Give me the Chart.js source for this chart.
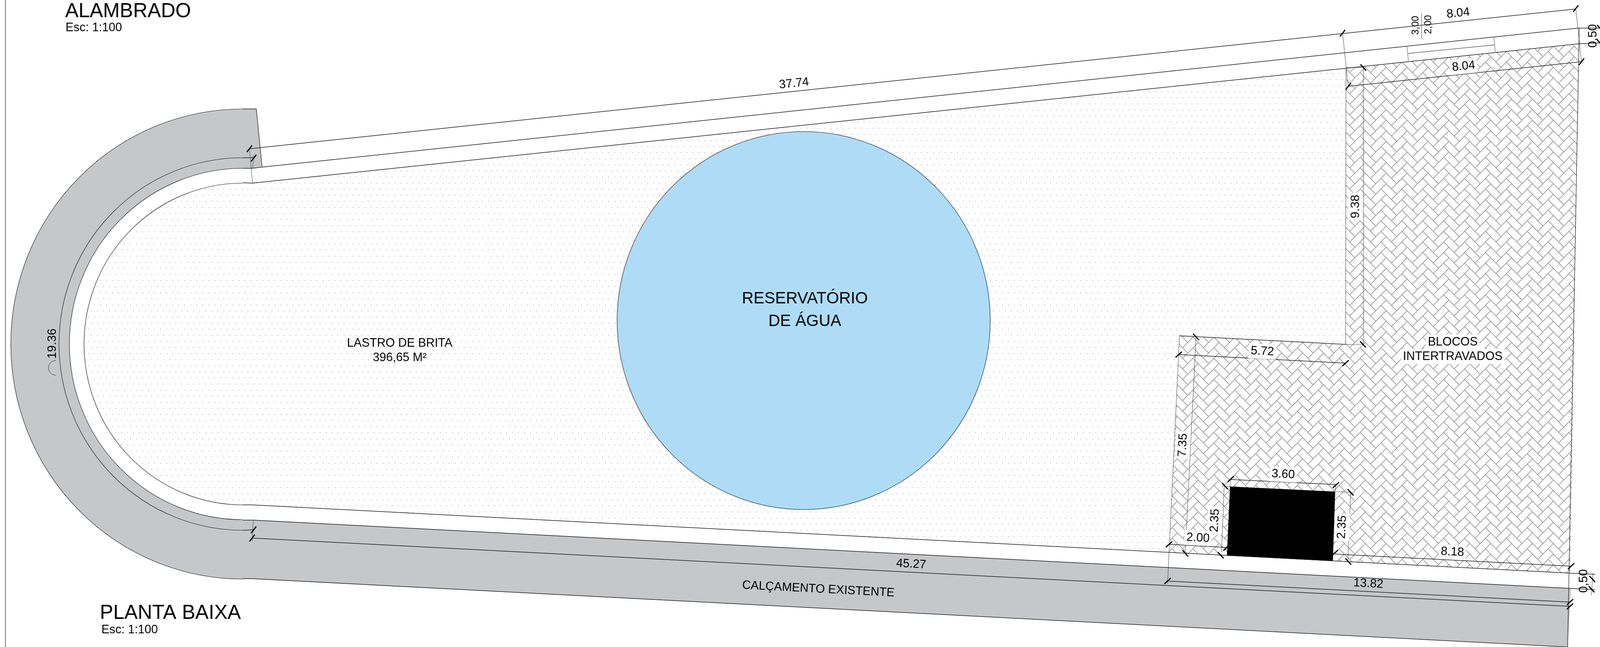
<!DOCTYPE html>
<html lang="pt-BR">
<head>
  <meta charset="UTF-8" />
  <title>Planta baixa - reservatório de água</title>
  <style>
    html, body { margin: 0; padding: 0; background: #fff; overflow: hidden; }
    canvas { display: block; width: 100vw !important; height: 100vh !important; }
  </style>
</head>
<body>
<canvas id="plan" width="4151" height="1657"></canvas>

<script src="https://cdn.jsdelivr.net/npm/chart.js"></script>
<script>
// plan readings, [x, y] in drawing units, [null, null] breaks a line
const gap = [null, null];

const frameLine = [[14, 0], [14, 1657]];

// round end of the lot, all share one centre
const curveCentre = [[630, 881]];
const reservoirCentre = [[2085, 821]];

const coverRight = [[630, 0], [4151, 0], [4151, 1657], [630, 1657]];
const pavingTop = [[630, 279], [665, 279], [680, 428], [655, 431], [630, 431]];
const pavingBottom = [[630, 1332], [657, 1332], [4076, 1507], [4067, 1657], [654, 1482], [630, 1482]];
const gravelArea = [[630, 468], [655, 469], [3492, 174], [3491, 882], [3060, 860], [3033, 1415], [654, 1293], [630, 1293]];
const blockArea = [[3492, 174], [4097, 112], [4074, 1468], [3033, 1415], [3060, 860], [3491, 882]];
const blackBox = [[3191, 1246], [3464, 1259], [3458, 1437], [3183, 1423]];

const planLines = [
  [[630, 279], [665, 279], [680, 428], [655, 431], [630, 431]],
  [[680, 428], [4094, 72], [4151, 72]],
  [[630, 468], [655, 469], [4097, 112], [4151, 110]],
  [[630, 1293], [654, 1293], [4076, 1468], [4139, 1471]],
  [[630, 1332], [657, 1332], [4076, 1507], [4138, 1510]],
  [[630, 1482], [654, 1482], [4067, 1657]],
  [[630, 404], [657, 404]],
  [[630, 1358], [657, 1357]],
  [[4097, 72], [4067, 1657]],
  [[3060, 860], [3491, 882]]
];

const dimensionLines = [
  [[647, 381], [4088, 23]],
  [[3498, 221], [4103, 158]],
  [[3058, 908], [3491, 930]],
  [[3033, 1394], [3182, 1402]],
  [[3193, 1228], [3466, 1241]],
  [[3463, 1419], [4076, 1450]],
  [[3028, 1488], [4073, 1542]],
  [[654, 1378], [4073, 1553]]
];

const edgeLines = [
  [[3492, 174], [3491, 882], [3537, 882], [3537, 173], [3492, 173]],
  [[3060, 860], [3029, 1495]],
  [[3103, 863], [3075, 1413]],
  [[3650, 119], [3654, 156]],
  [[3876, 96], [3879, 133]],
  [[3688, 33], [3688, 99]],
  [[4132, 1468], [4129, 1525]],
  [[3483, 85], [3498, 221]],
  [[4088, 22], [4103, 158]],
  [[3193, 1228], [3191, 1246]],
  [[3466, 1241], [3464, 1259]],
  [[3176, 1245], [3169, 1413]],
  [[3169, 1245], [3191, 1246]],
  [[3504, 1262], [3497, 1440]],
  [[3464, 1259], [3508, 1261]],
  [[647, 381], [655, 469]],
  [[658, 398], [656, 431]],
  [[657, 1332], [654, 1386]]
];

const gateLine = [[3652, 137], [3877, 115]];

const arcSymbol = [[145, 923], [135.5, 925.5], [128.5, 932.5], [126, 942], [128.5, 951.5], [135.5, 958.5], [145, 961]];

const ticksSteep = [[647, 381], [658, 405], [3483, 85], [4088, 22], [3498, 221], [4103, 158], [658, 1357], [654, 1378]];
const ticksForward = [[3033, 1394], [3029, 1488], [3193, 1227], [3466, 1242], [3058, 908], [3491, 930], [3463, 1416], [4076, 1450], [4073, 1542], [4073, 1553], [3182, 1403]];
const ticksBack = [[3537, 173], [3536, 882], [3103, 863], [3075, 1417], [3178, 1245], [3167, 1422], [3504, 1261], [3498, 1438], [4131, 1483], [4129, 1509], [4151, 72], [4151, 110]];

// text, x, y, angle, white box behind
const dimensionLabels = [
  ['37.74', 2060, 214, -5.95, false],
  ['8.04', 3783, 34, -5.95, false],
  ['8.04', 3797, 170, -5.95, true],
  ['9.38', 3517, 529, -90, true],
  ['5.72', 3275, 900, 2.9, true],
  ['7.35', 3069, 1140, -87.2, true],
  ['2.00', 3108, 1378, 2.9, true],
  ['2.35', 3152, 1333, -87.2, true],
  ['2.35', 3482, 1350, -87.2, true],
  ['3.60', 3329, 1215, 2.9, true],
  ['13.82', 3550, 1495, 2.9, false],
  ['8.18', 3768, 1414, 2.9, true],
  ['45.27', 2364, 1445, 2.9, false],
  ['19.36', 136, 880, -90, false],
  ['0,50', 4133, 92, -90, false],
  ['0,50', 4109, 1488, -90, false]
];
const smallDimensionLabels = [
  ['3,00', 3673, 65, -90, false],
  ['2,00', 3706, 63, -90, false]
];
const noteLabels = [
  ['CALÇAMENTO EXISTENTE', 2123, 1509, 2.9, false],
  ['LASTRO DE BRITA', 1037, 879, 0, false],
  ['396,65 M²', 1037, 916, 0, false],
  ['BLOCOS', 3769, 876, 0, true],
  ['INTERTRAVADOS', 3769, 913, 0, true]
];
const reservoirLabels = [
  ['RESERVATÓRIO', 2088, 765, 0, false],
  ['DE ÁGUA', 2088, 823, 0, false]
];
const titleLabels = [
  ['ALAMBRADO', 169, 44],
  ['PLANTA BAIXA', 259, 1585]
];
const scaleLabels = [
  ['Esc: 1:100', 170, 80],
  ['Esc: 1:100', 263, 1622]
];

const FONT = '"Liberation Sans", Arial, sans-serif';
const GREY = '#c6c7c9';
const INK = '#1c1c1c';

function joined(lines) {
  const out = [];
  lines.forEach((l, i) => {
    if (i) out.push(gap);
    l.forEach(p => out.push(p));
  });
  return out;
}

// gravel dots, staggered rows 15.6 apart
function dotPattern() {
  const tile = document.createElement('canvas');
  tile.width = 78;
  tile.height = 156;
  const c = tile.getContext('2d');
  c.fillStyle = '#a2a2a2';
  for (let j = 0; j < 10; j++) {
    const y = 0.87 + 15.6 * j;
    const x0 = j % 2 ? 3.47 : 11.07;
    for (let i = -1; i < 6; i++) {
      c.beginPath();
      c.arc(x0 + 15.6 * i, y, 1.1, 0, Math.PI * 2);
      c.fill();
    }
  }
  return c.createPattern(tile, 'repeat');
}

// herringbone, 2:1 bricks at 45 degrees
function brickPattern() {
  const tile = document.createElement('canvas');
  tile.width = 271;
  tile.height = 271;
  const c = tile.getContext('2d');
  c.fillStyle = '#fff';
  c.fillRect(0, 0, 271, 271);
  c.strokeStyle = '#a2a2a2';
  c.lineWidth = 1.7;
  const s = 27.1, w = 13.55;
  const quad = (a, b, d, e) => {
    c.beginPath();
    c.moveTo(a[0], a[1]);
    c.lineTo(b[0], b[1]);
    c.lineTo(d[0], d[1]);
    c.lineTo(e[0], e[1]);
    c.closePath();
    c.stroke();
  };
  for (let i = -2; i < 7; i++) {
    for (let j = -4; j < 13; j++) {
      const ax = 32.73 + 54.2 * i, ay = 23.3 + 27.1 * j;
      quad([ax, ay], [ax + w, ay + w], [ax + w + s, ay + w - s], [ax + s, ay - s]);
      const cx = ax + s;
      quad([cx, ay], [cx + s, ay + s], [cx + s + w, ay + s - w], [cx + w, ay - w]);
    }
  }
  return c.createPattern(tile, 'repeat');
}

function area(data, color) {
  return { data, showLine: true, fill: 'shape', backgroundColor: color, borderWidth: 0, pointRadius: 0 };
}
function line(data, color, width, tension) {
  return { data, showLine: true, fill: false, borderColor: color, borderWidth: width, tension: tension || 0, pointRadius: 0 };
}
function disc(data, radius, fillColor, edge, edgeWidth) {
  return {
    data, showLine: false, pointStyle: 'circle', pointRadius: radius,
    pointBackgroundColor: fillColor, pointBorderColor: edge, pointBorderWidth: edgeWidth
  };
}
function ticks(data, rotation) {
  return {
    data, showLine: false, pointStyle: 'line', pointRadius: 11, pointRotation: rotation,
    pointBorderColor: '#000', pointBorderWidth: 3, pointBackgroundColor: '#000'
  };
}

const dots = dotPattern();
const bricks = brickPattern();

const layers = [
  line(frameLine, INK, 1.3),
  disc(curveCentre, 602, GREY, INK, 1.2),
  disc(curveCentre, 477, 'rgba(0,0,0,0)', INK, 1.2),
  disc(curveCentre, 450, '#fff', INK, 1.2),
  disc(curveCentre, 412, dots, INK, 1.2),
  area(coverRight, '#fff'),
  area(pavingTop, GREY),
  area(pavingBottom, GREY),
  area(gravelArea, dots),
  area(blockArea, bricks),
  area(blackBox, '#000'),
  disc(reservoirCentre, 484, '#aedcf7', '#46545f', 1.6),
  line(joined(edgeLines), '#4c4c4c', 1.1),
  line(gateLine, '#5c5c5c', 1.6),
  line(joined(planLines), INK, 1.3),
  line(joined(dimensionLines), INK, 1.3),
  line(arcSymbol, INK, 1, 0.4),
  ticks(ticksSteep, -52),
  ticks(ticksForward, -42),
  ticks(ticksBack, 47)
];
// first listed is painted first
layers.forEach((d, i) => { d.order = layers.length - i; });

const labelPlugin = {
  id: 'planLabels',
  afterDatasetsDraw(chart) {
    const ctx = chart.ctx;
    const sx = chart.scales.x, sy = chart.scales.y;
    const put = (rows, size) => {
      ctx.font = size + 'px ' + FONT;
      rows.forEach(r => {
        ctx.save();
        ctx.translate(sx.getPixelForValue(r[1]), sy.getPixelForValue(r[2]));
        ctx.rotate((r[3] || 0) * Math.PI / 180);
        if (r[4]) {
          const w = ctx.measureText(r[0]).width + 10;
          ctx.fillStyle = '#fff';
          ctx.fillRect(-w / 2, -size * 0.62, w, size * 1.24);
        }
        ctx.fillStyle = '#000';
        ctx.textAlign = 'center';
        ctx.textBaseline = 'middle';
        ctx.fillText(r[0], 0, 0);
        ctx.restore();
      });
    };
    const putLeft = (rows, size) => {
      ctx.font = size + 'px ' + FONT;
      ctx.fillStyle = '#000';
      ctx.textAlign = 'left';
      ctx.textBaseline = 'alphabetic';
      rows.forEach(r => ctx.fillText(r[0], sx.getPixelForValue(r[1]), sy.getPixelForValue(r[2])));
    };
    put(dimensionLabels, 31);
    put(smallDimensionLabels, 25);
    put(noteLabels, 31);
    put(reservoirLabels, 42);
    putLeft(titleLabels, 52);
    putLeft(scaleLabels, 31);
  }
};

new Chart(document.getElementById('plan'), {
  type: 'scatter',
  data: { datasets: layers },
  plugins: [labelPlugin],
  options: {
    responsive: false,
    animation: false,
    devicePixelRatio: 1,
    layout: { autoPadding: false, padding: 0 },
    plugins: { legend: { display: false }, tooltip: { enabled: false } },
    scales: {
      x: { type: 'linear', display: false, min: 0, max: 4151 },
      y: { type: 'linear', display: false, min: 0, max: 1657, reverse: true }
    }
  }
});
</script>
</body>
</html>
